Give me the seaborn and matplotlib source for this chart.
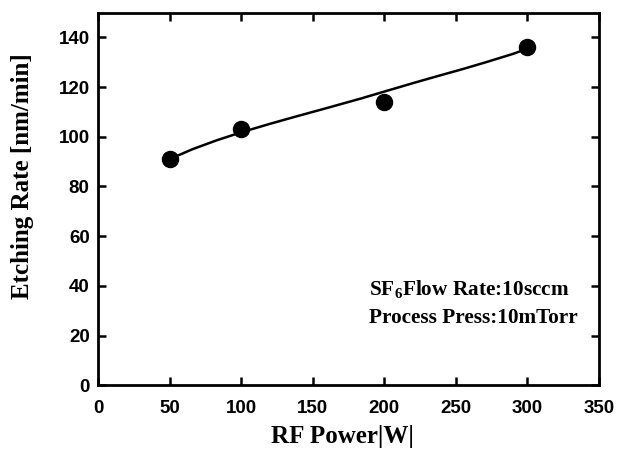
import matplotlib
matplotlib.use("Agg")
import matplotlib.pyplot as plt
import seaborn as sns
import pandas as pd

# measured data
rf_power = [50, 100, 200, 300]
etch_rate = [91, 103, 114, 136]

# smooth guide curve
curve_x = [50, 66, 83, 100, 120, 136, 160, 183, 200, 220, 237, 255, 272, 290, 300]
curve_y = [91, 95, 98.6, 101.8, 105.2, 107.8, 111.6, 115.3, 118.2, 121.6, 124.4, 127.3, 130.2, 133.4, 135.5]

x_ticks = [0, 50, 100, 150, 200, 250, 300, 350]
y_ticks = [0, 20, 40, 60, 80, 100, 120, 140]

sns.set_style("ticks")
plt.rcParams['font.family'] = ['Liberation Sans', 'DejaVu Sans']
plt.rcParams['text.color'] = 'black'
plt.rcParams['axes.labelcolor'] = 'black'
plt.rcParams['xtick.color'] = 'black'
plt.rcParams['ytick.color'] = 'black'
plt.rcParams['mathtext.fontset'] = 'custom'
plt.rcParams['mathtext.rm'] = 'Liberation Serif:bold'
plt.rcParams['mathtext.bf'] = 'Liberation Serif:bold'

fig = plt.figure(figsize=(6.24, 4.5), dpi=100)
ax = fig.add_axes([0.157, 0.144, 0.803, 0.828])

df_pts = pd.DataFrame({"x": rf_power, "y": etch_rate})
df_curve = pd.DataFrame({"x": curve_x, "y": curve_y})

sns.lineplot(data=df_curve, x="x", y="y", ax=ax, color="black", linewidth=1.8, sort=True)
sns.scatterplot(data=df_pts, x="x", y="y", ax=ax, color="black", s=135, edgecolor="black", zorder=5)

ax.set_xlim(0, 350)
ax.set_ylim(0, 150)
ax.set_xticks(x_ticks)
ax.set_yticks(y_ticks)
ax.set_xticklabels([str(t) for t in x_ticks], fontweight="bold", fontsize=13.5, color="black")
ax.set_yticklabels([str(t) for t in y_ticks], fontweight="bold", fontsize=13.5, color="black")

ax.tick_params(direction="in", length=6, width=1.8, top=True, right=True,
               labelright=False, labeltop=False, colors="black")
ax.tick_params(axis="x", pad=11)
ax.tick_params(axis="y", pad=6)
for sp in ax.spines.values():
    sp.set_visible(True)
    sp.set_linewidth(2)
    sp.set_color("black")

serif = ['Liberation Serif', 'DejaVu Serif']
ax.set_xlabel("RF Power|W|", family=serif, fontweight="bold", fontsize=18, color="black")
ax.set_ylabel("Etching Rate [nm/min]", family=serif, fontweight="bold", fontsize=18, color="black")
ax.xaxis.set_label_coords(0.487, -0.108)
ax.yaxis.set_label_coords(-0.128, 0.56)

ax.text(189, 36, r"SF$_{6}$Flow Rate:10sccm", family=serif, fontweight="bold", fontsize=15.3)
ax.text(189, 25, "Process Press:10mTorr", family=serif, fontweight="bold", fontsize=15.3)

fig.savefig("out.png", dpi=100)
